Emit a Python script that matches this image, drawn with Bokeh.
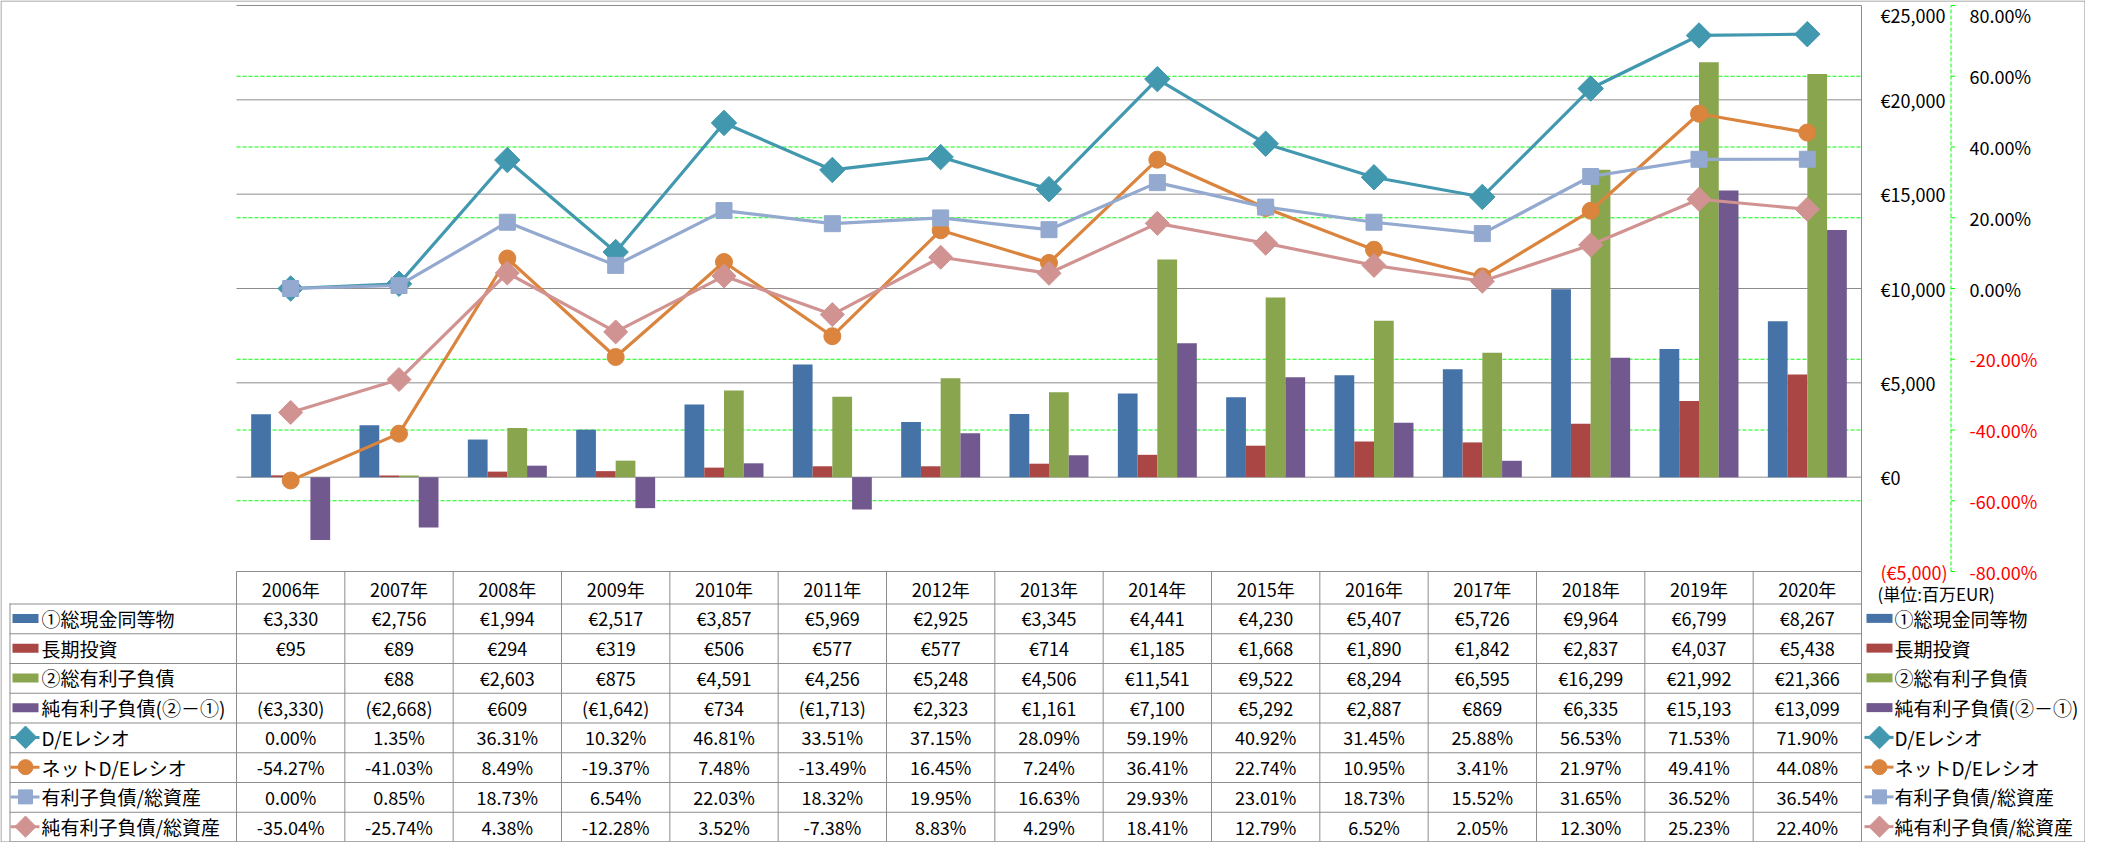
import numpy as np
from bokeh.plotting import figure
from bokeh.models import Range1d, ColumnDataSource
from bokeh.core.properties import value
from bokeh.transform import dodge
from bokeh.embed import file_html
from bokeh.resources import INLINE

# ---------------- data ----------------
years = ["2006年", "2007年", "2008年", "2009年", "2010年", "2011年", "2012年", "2013年",
         "2014年", "2015年", "2016年", "2017年", "2018年", "2019年", "2020年"]

cash = [3330, 2756, 1994, 2517, 3857, 5969, 2925, 3345, 4441, 4230, 5407, 5726, 9964, 6799, 8267]
lt_invest = [95, 89, 294, 319, 506, 577, 577, 714, 1185, 1668, 1890, 1842, 2837, 4037, 5438]
debt = [None, 88, 2603, 875, 4591, 4256, 5248, 4506, 11541, 9522, 8294, 6595, 16299, 21992, 21366]
net_debt = [-3330, -2668, 609, -1642, 734, -1713, 2323, 1161, 7100, 5292, 2887, 869, 6335, 15193, 13099]

de_ratio = [0.00, 1.35, 36.31, 10.32, 46.81, 33.51, 37.15, 28.09, 59.19, 40.92, 31.45, 25.88, 56.53, 71.53, 71.90]
net_de_ratio = [-54.27, -41.03, 8.49, -19.37, 7.48, -13.49, 16.45, 7.24, 36.41, 22.74, 10.95, 3.41, 21.97, 49.41, 44.08]
debt_to_assets = [0.00, 0.85, 18.73, 6.54, 22.03, 18.32, 19.95, 16.63, 29.93, 23.01, 18.73, 15.52, 31.65, 36.52, 36.54]
net_debt_to_assets = [-35.04, -25.74, 4.38, -12.28, 3.52, -7.38, 8.83, 4.29, 18.41, 12.79, 6.52, 2.05, 12.30, 25.23, 22.40]

bar_names = ["①総現金同等物", "長期投資", "②総有利子負債", "純有利子負債(②－①)"]
line_names = ["D/Eレシオ", "ネットD/Eレシオ", "有利子負債/総資産", "純有利子負債/総資産"]
eur_ticks = [-5000, 0, 5000, 10000, 15000, 20000, 25000]
pct_ticks = [-80, -60, -40, -20, 0, 20, 40, 60, 80]
unit_note = "(単位:百万EUR)"

# ---------------- styles / layout ----------------
FONT = value("Noto Sans CJK JP")
FS = value("18px")
FS_LBL = value("19px")
bar_colors = ["#4572A7", "#AA4643", "#89A54E", "#71588F"]
line_colors = ["#4198AF", "#DB843D", "#93A9CF", "#D19392"]
markers = [("square", np.pi / 4, 18), ("circle", 0, 17), ("square", 0, 16), ("square", np.pi / 4, 17)]
GRAY = "#8C8C8C"
GREEN = "#00FF00"
RED = "#FF0000"

W, H = 2085, 842
PX0, PX1 = 236, 1861          # plot area (canvas px)
PY0, PY1 = 5, 571
TBL_HDR_BOT = 603
TBL_BOT = 841
LBL_LEFT = 9
TOP_LABEL_NUDGE = 9           # keep the top tick labels inside the canvas

n = len(years)
EUR_MIN, EUR_MAX = eur_ticks[0], eur_ticks[-1]
PCT_MIN, PCT_MAX = pct_ticks[0] / 100, pct_ticks[-1] / 100

ppu = (PX1 - PX0) / n
x_start = -0.5 - PX0 / ppu
x_end = n - 0.5 + (W - PX1) / ppu
eur_pp = (PY1 - PY0) / (EUR_MAX - EUR_MIN)
y_start = EUR_MIN - (H - PY1) / eur_pp
y_end = EUR_MAX + PY0 / eur_pp
pct_pp = (PY1 - PY0) / (PCT_MAX - PCT_MIN)
pct_start = PCT_MIN - (H - PY1) / pct_pp
pct_end = PCT_MAX + PY0 / pct_pp

p = figure(width=W, height=H, x_range=Range1d(x_start, x_end), y_range=Range1d(y_start, y_end),
           x_axis_type=None, y_axis_type=None, output_backend="svg", toolbar_location=None,
           min_border=0, outline_line_color=None, background_fill_color="white",
           border_fill_color="white")
p.extra_y_ranges = {"pct": Range1d(pct_start, pct_end), "py": Range1d(H, 0)}
p.extra_x_ranges = {"px": Range1d(0, W)}

idx = list(range(n))
xl, xr = -0.5, n - 0.5

# outer border
p.quad(left=0.5, right=W - 0.5, top=0.5, bottom=H - 0.5, x_range_name="px", y_range_name="py",
       fill_color=None, line_color=GRAY, line_width=1)

# gridlines
p.segment(x0=[xl] * len(eur_ticks), x1=[xr] * len(eur_ticks), y0=eur_ticks, y1=eur_ticks,
          line_color=GRAY, line_width=1)
pg = [t / 100 for t in pct_ticks if t not in (0, 80, -80)]
p.segment(x0=[xl] * len(pg), x1=[xr] * len(pg), y0=pg, y1=pg, y_range_name="pct",
          line_color=GREEN, line_width=1, line_dash="4 2")

# bars
src = ColumnDataSource(dict(x=idx, cash=cash, lt=lt_invest,
                            debt=[np.nan if v is None else v for v in debt], net=net_debt))
bw = 0.729 / 4
for k, (col, color) in enumerate(zip(["cash", "lt", "debt", "net"], bar_colors)):
    off = (k - 1.5) * bw
    p.vbar(x=dodge("x", off, range=p.x_range), top=col, bottom=0, width=bw, source=src,
           fill_color=color, line_color=None)

# lines
for vals, color, (mk, ang, sz) in zip([de_ratio, net_de_ratio, debt_to_assets, net_debt_to_assets],
                                      line_colors, markers):
    ys = [v / 100 for v in vals]
    p.line(x=idx, y=ys, y_range_name="pct", line_color=color, line_width=3.2)
    p.scatter(x=idx, y=ys, y_range_name="pct", marker=mk, angle=ang, size=sz,
              fill_color=color, line_color=color)

# plot right edge (primary axis line)
p.segment(x0=[xr], x1=[xr], y0=[EUR_MIN], y1=[EUR_MAX], line_color=GRAY, line_width=1)

# secondary (percent) axis line + ticks
AX2 = 1950.5
p.segment(x0=[AX2], x1=[AX2], y0=[PCT_MIN], y1=[PCT_MAX], x_range_name="px", y_range_name="pct",
          line_color=GREEN, line_width=1, line_dash="4 2")
pt = [t / 100 for t in pct_ticks]
p.segment(x0=[AX2] * len(pt), x1=[AX2 + 4] * len(pt), y0=pt, y1=pt, x_range_name="px",
          y_range_name="pct", line_color=GREEN, line_width=1)

def fmt_eur(v):
    if v is None:
        return ""
    s = "€{:,}".format(abs(v))
    return "(" + s + ")" if v < 0 else s

def fmt_pct(v):
    return "{:.2f}%".format(v)

# axis tick labels
p.text(x=[1880] * len(eur_ticks), y=eur_ticks, text=[fmt_eur(t) for t in eur_ticks],
       y_offset=[TOP_LABEL_NUDGE if t == EUR_MAX else 0 for t in eur_ticks],
       x_range_name="px", text_font=FONT, text_font_size=FS, text_align="left",
       text_baseline="middle", text_color=[RED if t < 0 else "#000000" for t in eur_ticks])
p.text(x=[1969] * len(pct_ticks), y=pt, text=[fmt_pct(t) for t in pct_ticks],
       y_offset=[TOP_LABEL_NUDGE if t == pct_ticks[-1] else 0 for t in pct_ticks],
       x_range_name="px", y_range_name="pct", text_font=FONT, text_font_size=FS,
       text_align="left", text_baseline="middle",
       text_color=[RED if t < 0 else "#000000" for t in pct_ticks])

# ---------------- data table ----------------
rh = (TBL_BOT - TBL_HDR_BOT) / 8
row_c = [TBL_HDR_BOT + (k + 0.5) * rh for k in range(8)]
row_b = [TBL_HDR_BOT + k * rh for k in range(9)]

cb = [xl + k for k in range(n + 1)]
p.segment(x0=cb, x1=cb, y0=[PY1] * len(cb), y1=[TBL_BOT] * len(cb), y_range_name="py",
          line_color=GRAY, line_width=1)
p.segment(x0=[LBL_LEFT + 0.5], x1=[LBL_LEFT + 0.5], y0=[TBL_HDR_BOT], y1=[TBL_BOT],
          x_range_name="px", y_range_name="py", line_color=GRAY, line_width=1)
p.segment(x0=[LBL_LEFT] * len(row_b), x1=[PX1] * len(row_b), y0=[b + 0.5 for b in row_b],
          y1=[b + 0.5 for b in row_b], x_range_name="px", y_range_name="py",
          line_color=GRAY, line_width=1)

txt = dict(text_font=FONT, text_color="#000000", text_baseline="middle")
p.text(x=idx, y=[(PY1 + TBL_HDR_BOT) / 2 + 1] * n, text=years, y_range_name="py",
       text_align="center", text_font_size=FS, **txt)

rows = [[fmt_eur(v) for v in cash], [fmt_eur(v) for v in lt_invest], [fmt_eur(v) for v in debt],
        [fmt_eur(v) for v in net_debt], [fmt_pct(v) for v in de_ratio],
        [fmt_pct(v) for v in net_de_ratio], [fmt_pct(v) for v in debt_to_assets],
        [fmt_pct(v) for v in net_debt_to_assets]]
for k, r in enumerate(rows):
    p.text(x=idx, y=[row_c[k]] * n, text=r, y_range_name="py", text_align="center",
           text_font_size=FS, **txt)

# legend keys (left label column and right legend)
names = bar_names + line_names
for (sw0, sw1, tx) in [(12, 38, 41), (1866, 1892, 1894)]:
    for k in range(4):
        p.quad(left=sw0, right=sw1, top=row_c[k] - 4.5, bottom=row_c[k] + 4.5,
               x_range_name="px", y_range_name="py", fill_color=bar_colors[k], line_color=None)
    for k in range(4):
        yc = row_c[4 + k]
        mk, ang, sz = markers[k]
        p.segment(x0=[sw0 - 2], x1=[sw1 + 1], y0=[yc], y1=[yc], x_range_name="px",
                  y_range_name="py", line_color=line_colors[k], line_width=3)
        p.scatter(x=[(sw0 + sw1) / 2], y=[yc], x_range_name="px", y_range_name="py", marker=mk,
                  angle=ang, size=sz - 2, fill_color=line_colors[k], line_color=line_colors[k])
    p.text(x=[tx] * 8, y=row_c, text=names, x_range_name="px", y_range_name="py",
           text_align="left", text_font_size=FS_LBL, **txt)

p.text(x=[1877], y=[(PY1 + TBL_HDR_BOT) / 2 + 6], text=[unit_note], x_range_name="px",
       y_range_name="py", text_align="left", text_font=FONT, text_font_size=value("17px"),
       text_color="#000000", text_baseline="middle")

open("out.html", "w").write(file_html(p, INLINE))
